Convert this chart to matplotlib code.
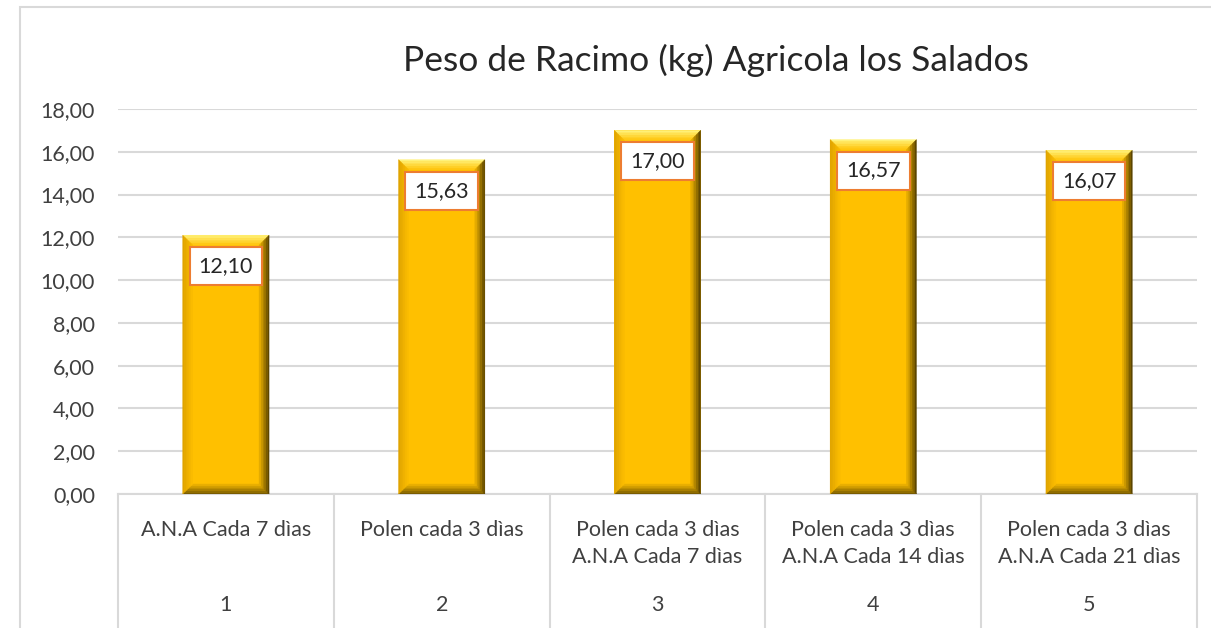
import matplotlib
matplotlib.use("Agg")
import matplotlib.pyplot as plt
from matplotlib.patches import Polygon, Rectangle
import matplotlib.colors as mcolors
import numpy as np

plt.rcParams['font.family'] = ['Lato', 'DejaVu Sans']

title = "Peso de Racimo (kg) Agricola los Salados"
groups = ["1", "2", "3", "4", "5"]
treatments = [
    ["A.N.A Cada 7 dìas"],
    ["Polen cada 3 dìas"],
    ["Polen cada 3 dìas", "A.N.A Cada 7 dìas"],
    ["Polen cada 3 dìas", "A.N.A Cada 14 dìas"],
    ["Polen cada 3 dìas", "A.N.A Cada 21 dìas"],
]
values = [12.10, 15.63, 17.00, 16.57, 16.07]
yticks = [0, 2, 4, 6, 8, 10, 12, 14, 16, 18]

W, H = 1211, 628
fig = plt.figure(figsize=(W / 100, H / 100), dpi=100)
ax_l, ax_r, ax_t, ax_b = 118, 1197, 109, 494
ax = fig.add_axes([ax_l / W, 1 - ax_b / H, (ax_r - ax_l) / W, (ax_b - ax_t) / H])

# chart border (cut off at right and bottom)
fig.patches.append(Rectangle((20 / W, -0.1), 1.2, 1 - 7 / H + 0.1, transform=fig.transFigure,
                             fill=False, edgecolor="#D9D9D9", linewidth=1.5))

x = np.arange(len(values))
ax.set_xlim(-0.5, len(values) - 0.5)
ax.set_ylim(0, 18)
ax.set_yticks(yticks)
ax.set_yticklabels([f"{v:.2f}".replace(".", ",") for v in yticks], fontsize=15.5, color="#404040")
ax.tick_params(axis="y", length=0, pad=16.5)
ax.set_xticks([])
for s in ["top", "right", "left"]:
    ax.spines[s].set_visible(False)
ax.spines["bottom"].set_color("#D9D9D9")
ax.spines["bottom"].set_linewidth(1.5)
ax.grid(axis="y", color="#D9D9D9", linewidth=1.5)
ax.set_axisbelow(True)

bw = 0.40
bars = ax.bar(x, values, width=bw, color="#FFC000", zorder=2)

# bevel effect
px_x = 1.0 * len(values) / (ax_r - ax_l)
px_y = 18.0 / (ax_b - ax_t)
bev = 10
main = np.array(mcolors.to_rgb("#FFC000"))
edges = {
    "top": np.array(mcolors.to_rgb("#FFF27A")),
    "left": np.array(mcolors.to_rgb("#E0A400")),
    "right": np.array(mcolors.to_rgb("#5C4500")),
    "bottom": np.array(mcolors.to_rgb("#7A5C00")),
}
n = 6
for b in bars:
    x0, y0 = b.get_x(), b.get_y()
    x1, y1 = x0 + b.get_width(), y0 + b.get_height()
    for i in range(n):
        a, c = i * bev / n, (i + 1) * bev / n
        f = i / n
        oa = (x0 + a * px_x, y0 + a * px_y, x1 - a * px_x, y1 - a * px_y)
        ob = (x0 + c * px_x, y0 + c * px_y, x1 - c * px_x, y1 - c * px_y)
        quads = {
            "top": [(oa[0], oa[3]), (oa[2], oa[3]), (ob[2], ob[3]), (ob[0], ob[3])],
            "bottom": [(oa[0], oa[1]), (oa[2], oa[1]), (ob[2], ob[1]), (ob[0], ob[1])],
            "left": [(oa[0], oa[1]), (oa[0], oa[3]), (ob[0], ob[3]), (ob[0], ob[1])],
            "right": [(oa[2], oa[1]), (oa[2], oa[3]), (ob[2], ob[3]), (ob[2], ob[1])],
        }
        for side, pts in quads.items():
            col = edges[side] * (1 - f) + main * f
            ax.add_patch(Polygon(pts, closed=True, facecolor=col, edgecolor=col,
                                 linewidth=0.3, zorder=3))

for xi, v in zip(x, values):
    ax.annotate(f"{v:.2f}".replace(".", ","), (xi, v), xytext=(0, -31), textcoords="offset pixels",
                ha="center", va="center", fontsize=15.5, color="#262626", zorder=5,
                bbox=dict(boxstyle="square,pad=0.42", facecolor="white",
                          edgecolor="#ED7D31", linewidth=1.5))

# multi-level category axis
cat_w = (ax_r - ax_l) / len(values)
for k in range(len(values) + 1):
    xp = (ax_l + k * cat_w) / W
    fig.add_artist(plt.Line2D([xp, xp], [1 - ax_b / H, 0], color="#D9D9D9", linewidth=1.5))
for k, (lines, g) in enumerate(zip(treatments, groups)):
    xc = (ax_l + (k + 0.5) * cat_w) / W
    for j, t in enumerate(lines):
        fig.text(xc, 1 - (530 + 27 * j) / H, t, ha="center", va="center", fontsize=15.5, color="#404040")
    fig.text(xc, 1 - 605 / H, g, ha="center", va="center", fontsize=15.5, color="#404040")

fig.text(716 / W, 1 - 60 / H, title, ha="center", va="center", fontsize=25.5, color="#262626")

fig.savefig("out.png", dpi=100)
